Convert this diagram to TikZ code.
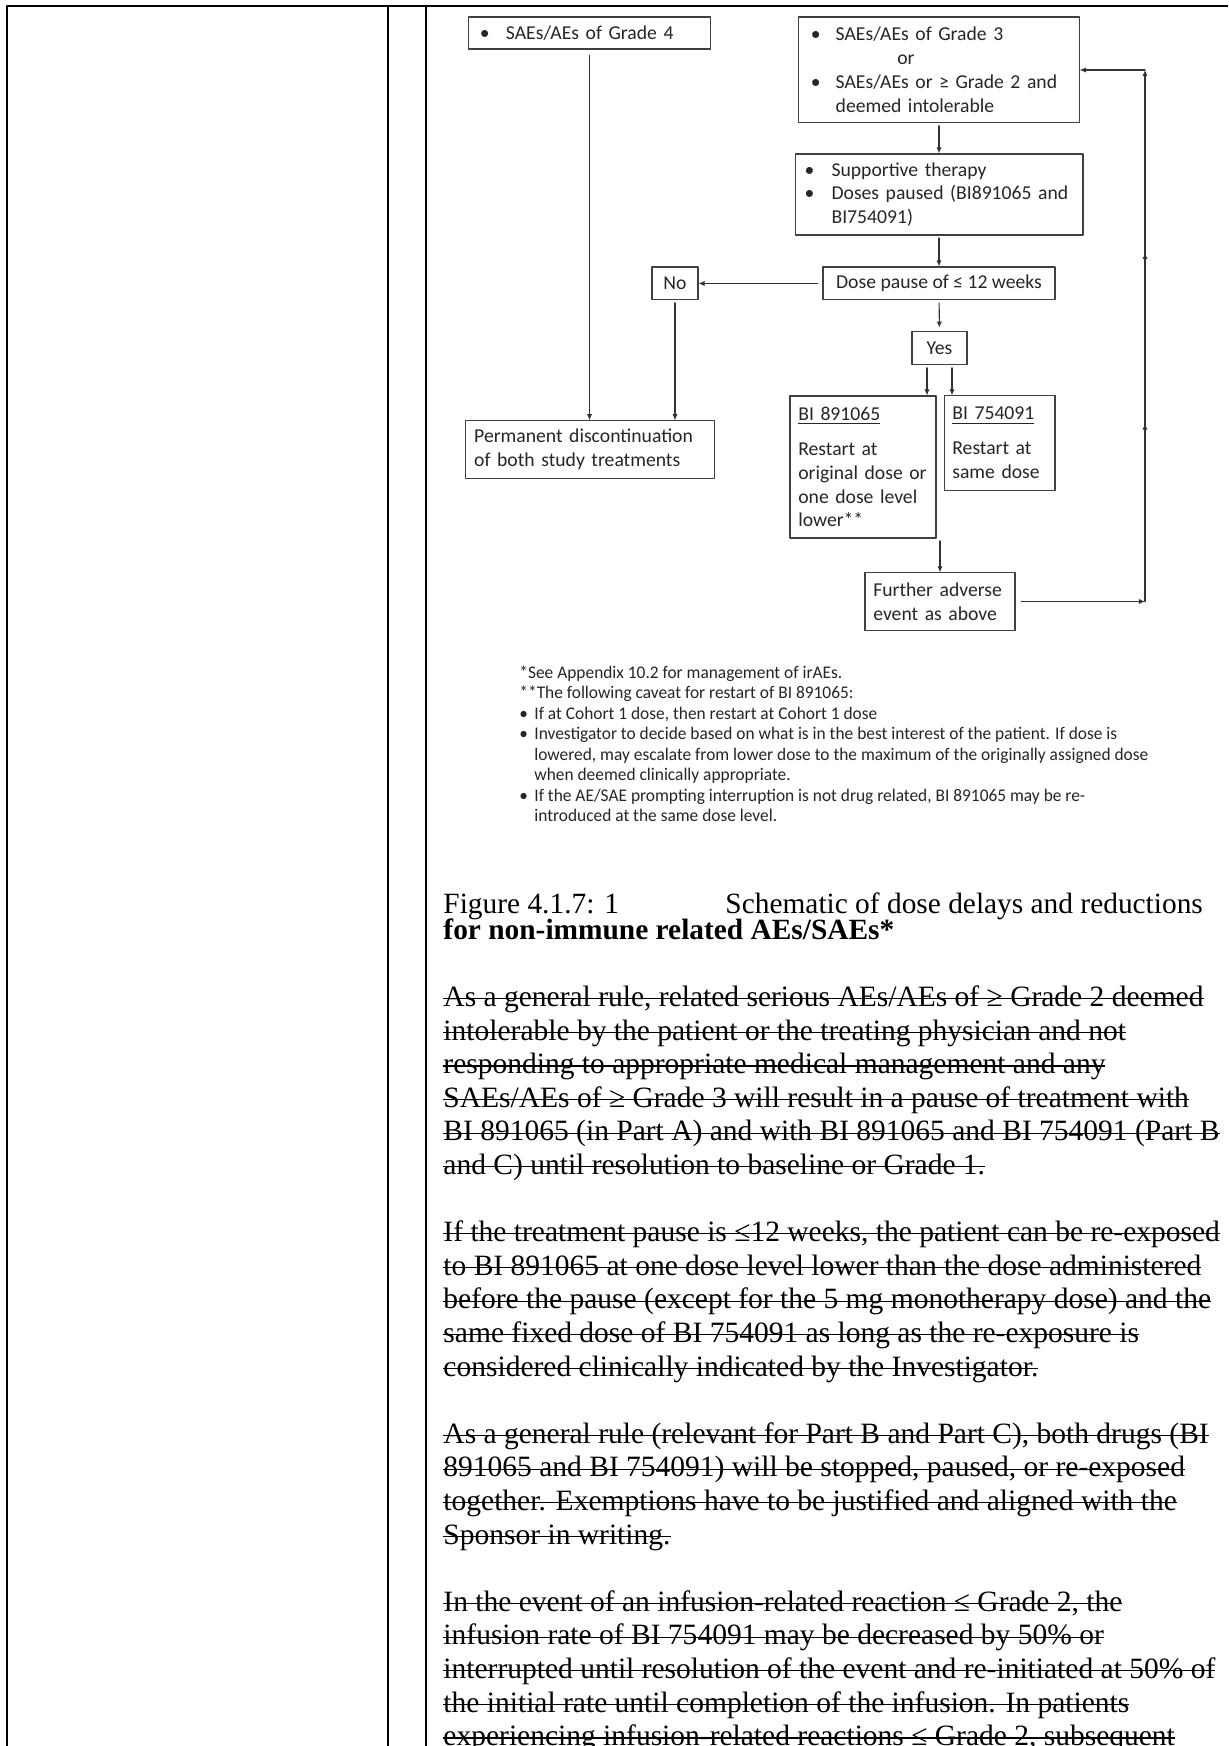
\documentclass[tikz,border=0pt]{standalone}
\usepackage{fontspec}
\setmainfont{Liberation Serif}
\newfontfamily\chartfont{Carlito}
\newfontfamily\notefont[FakeStretch=0.977]{Carlito}
\usetikzlibrary{arrows.meta, decorations.markings}
\tikzset{>={Latex[length=2.6pt,width=2.2pt]}}
\newcommand\bul[1]{\makebox[#1][l]{\textbullet}}
\newsavebox\strikebox
\newcommand\strike[1]{\sbox\strikebox{#1}\rlap{\rule[3pt]{\wd\strikebox}{0.5pt}}\usebox\strikebox}

\begin{document}
\begin{tikzpicture}[x=0.422pt, y=-0.422pt,
                line cap=round, line join=round,
                box/.style={draw=black!75, line width=0.45pt, inner xsep=3.5pt, inner ysep=0pt,
                    font=\chartfont\fontsize{8.3}{10.1}\selectfont, text=black!85, align=left},
                tag/.style={box, align=center, inner xsep=0pt},
                arr/.style={->, draw=black!80, line width=0.45pt, shorten <=1pt},
                midarr/.style={arr, postaction={decorate}, decoration={markings,
                    mark=at position 0.335 with {\arrow{>}},
                    mark=at position 0.656 with {\arrow{>}}}},
                rule/.style={line width=0.85pt, line cap=butt},
                note/.style={anchor=base west, inner sep=0pt, align=left,
                    font=\notefont\fontsize{7.5}{8.65}\selectfont, text=black!85},
                body/.style={anchor=base west, inner sep=0pt, align=left,
                    font=\fontsize{12.45}{14.18}\selectfont}]
    \useasboundingbox (0,0) rectangle (1228,1746);
    \fill[white] (0,0) rectangle (1228,1746);

    % table rules
    \draw[rule] (7,1746) -- (7,6) -- (440,6);
    \draw[line width=0.6pt] (440,6) -- (1195,6);
    \draw[rule] (1195,6) -- (1228,6);
    \draw[rule] (388,6) -- (388,1746);
    \draw[rule] (426,6) -- (426,1746);

    % chart boxes
    \node[box, text width=95.5pt, minimum height=13.5pt] (g4) at (589.5,33)
        {\hspace*{1.5pt}\bul{11pt}SAEs/AEs of Grade 4};
    \node[box, text width=111.2pt, minimum height=44.7pt] (g3) at (939,70)
        {\hspace*{1.5pt}\bul{10.5pt}SAEs/AEs of Grade 3\\
         \hspace*{38pt}or\\
         \hspace*{1.5pt}\bul{10.5pt}\mbox{SAEs/AEs or ≥ Grade 2 and}\\
         \hspace*{12pt}deemed intolerable};
    \node[box, text width=114.5pt, minimum height=34.2pt] (sup) at (939,194.5)
        {\hspace*{0.5pt}\bul{11.4pt}Supportive therapy\\
         \hspace*{0.5pt}\bul{11.4pt}\mbox{Doses paused (BI891065 and}\\
         \hspace*{11.9pt}BI754091)};
    \node[tag, minimum width=97.9pt, minimum height=13.9pt] (pause) at (939,283.5)
        {Dose pause of ≤ 12 weeks};
    \node[tag, minimum width=19.4pt, minimum height=13.9pt] (no) at (675,283.5) {No};
    \node[tag, minimum width=23.2pt, minimum height=14.3pt] (yes) at (939.5,348) {Yes};
    \node[box, text width=54.6pt, minimum height=59.9pt] (bia) at (863,467)
        {\underline{BI 891065}\\[4.6pt]
         Restart at\\ \mbox{original dose or}\\ one dose level\\ lower**};
    \node[box, text width=39.8pt, minimum height=39.7pt] (bib) at (999.5,443)
        {\underline{BI 754091}\\[4.6pt]
         Restart at\\ same dose};
    \node[box, text width=56.3pt, minimum height=24.1pt] (fur) at (940,601.5)
        {Further adverse\\ event as above};
    \node[box, text width=97.7pt, minimum height=24.1pt] (perm) at (590,449.5)
        {\mbox{Permanent discontinuation}\\ of both study treatments};
    \coordinate (rail) at (1145,0);

    % chart arrows
    \draw[arr, shorten <=2.5pt] (g4) -- (g4 |- perm.north);
    \draw[arr] (g3) -- (sup);
    \draw[arr] (sup) -- (pause);
    \draw[arr, shorten <=2pt] (pause) -- (no);
    \draw[arr] (no) -- (no |- perm.north);
    \draw[arr, shorten >=1.2pt] (pause) -- (yes);
    \draw[arr] ([xshift=-12.5*0.422pt]yes.south) -- ([xshift=-12.5*0.422pt]yes.south |- bia.north);
    \draw[arr] ([xshift=12.5*0.422pt]yes.south) -- ([xshift=12.5*0.422pt]yes.south |- bib.north);
    \draw[arr] (fur.north |- bia.south) -- (fur.north);
    \draw[arr, shorten <=2.5pt] (fur.east) -- (fur.east -| rail);
    \draw[midarr, shorten <=0pt] (fur.east -| rail) -- (g3.east -| rail);
    \draw[arr, shorten <=0pt] (g3.east -| rail) -- (g3.east);

    % footnotes (node base = last line)
    \node[note] (fn) at (519,821.5)
        {*See Appendix 10.2 for management of irAEs.\\
         **The following caveat for restart of BI 891065:\\
         \bul{6.3pt}If at Cohort 1 dose, then restart at Cohort 1 dose\\
         \bul{6.3pt}Investigator to decide based on what is in the best interest of the patient. If dose is\\
         \hspace*{6.3pt}lowered, may escalate from lower dose to the maximum of the originally assigned dose\\
         \hspace*{6.3pt}when deemed clinically appropriate.\\
         \bul{6.3pt}If the AE/SAE prompting interruption is not drug related, BI 891065 may be re-\\
         \hspace*{6.3pt}introduced at the same dose level.};

    % caption
    \node[body, font=\fontsize{12.4}{14.18}\selectfont] (cap) at (443,913) {Figure 4.1.7: 1};
    \node[body, font=\fontsize{12.4}{14.18}\selectfont] (captxt) at (725,913) {Schematic of dose delays and reductions};
    \node[body, font=\fontsize{12.4}{14.18}\selectfont\bfseries] (capsub) at (443,939)
        {for non-immune related AEs/SAEs*};

    % struck-out paragraphs (node base = last line)
    \node[body] (p1) at (443,1174.5)
        {\strike{As a general rule, related serious AEs/AEs of ≥ Grade 2 deemed}\\
         \strike{intolerable by the patient or the treating physician and not}\\
         \strike{responding to appropriate medical management and any}\\
         \strike{SAEs/AEs of ≥ Grade 3 will result in a pause of treatment with}\\
         \strike{BI 891065 (in Part A) and with BI 891065 and BI 754091 (Part B}\\
         \strike{and C) until resolution to baseline or Grade 1.}};
    \node[body] (p2) at (443,1376)
        {\strike{If the treatment pause is ≤12 weeks, the patient can be re-exposed}\\
         \strike{to BI 891065 at one dose level lower than the dose administered}\\
         \strike{before the pause (except for the 5 mg monotherapy dose) and the}\\
         \strike{same fixed dose of BI 754091 as long as the re-exposure is}\\
         \strike{considered clinically indicated by the Investigator.}};
    \node[body] (p3) at (443,1544)
        {\strike{As a general rule (relevant for Part B and Part C), both drugs (BI}\\
         \strike{891065 and BI 754091) will be stopped, paused, or re-exposed}\\
         \strike{together. Exemptions have to be justified and aligned with the}\\
         \strike{Sponsor in writing.}};
    \node[body] (p4) at (443,1745.7)
        {\strike{In the event of an infusion-related reaction ≤ Grade 2, the}\\
         \strike{infusion rate of BI 754091 may be decreased by 50\% or}\\
         \strike{interrupted until resolution of the event and re-initiated at 50\% of}\\
         \strike{the initial rate until completion of the infusion. In patients}\\
         \strike{experiencing infusion-related reactions ≤ Grade 2, subsequent}};
\end{tikzpicture}
\end{document}
